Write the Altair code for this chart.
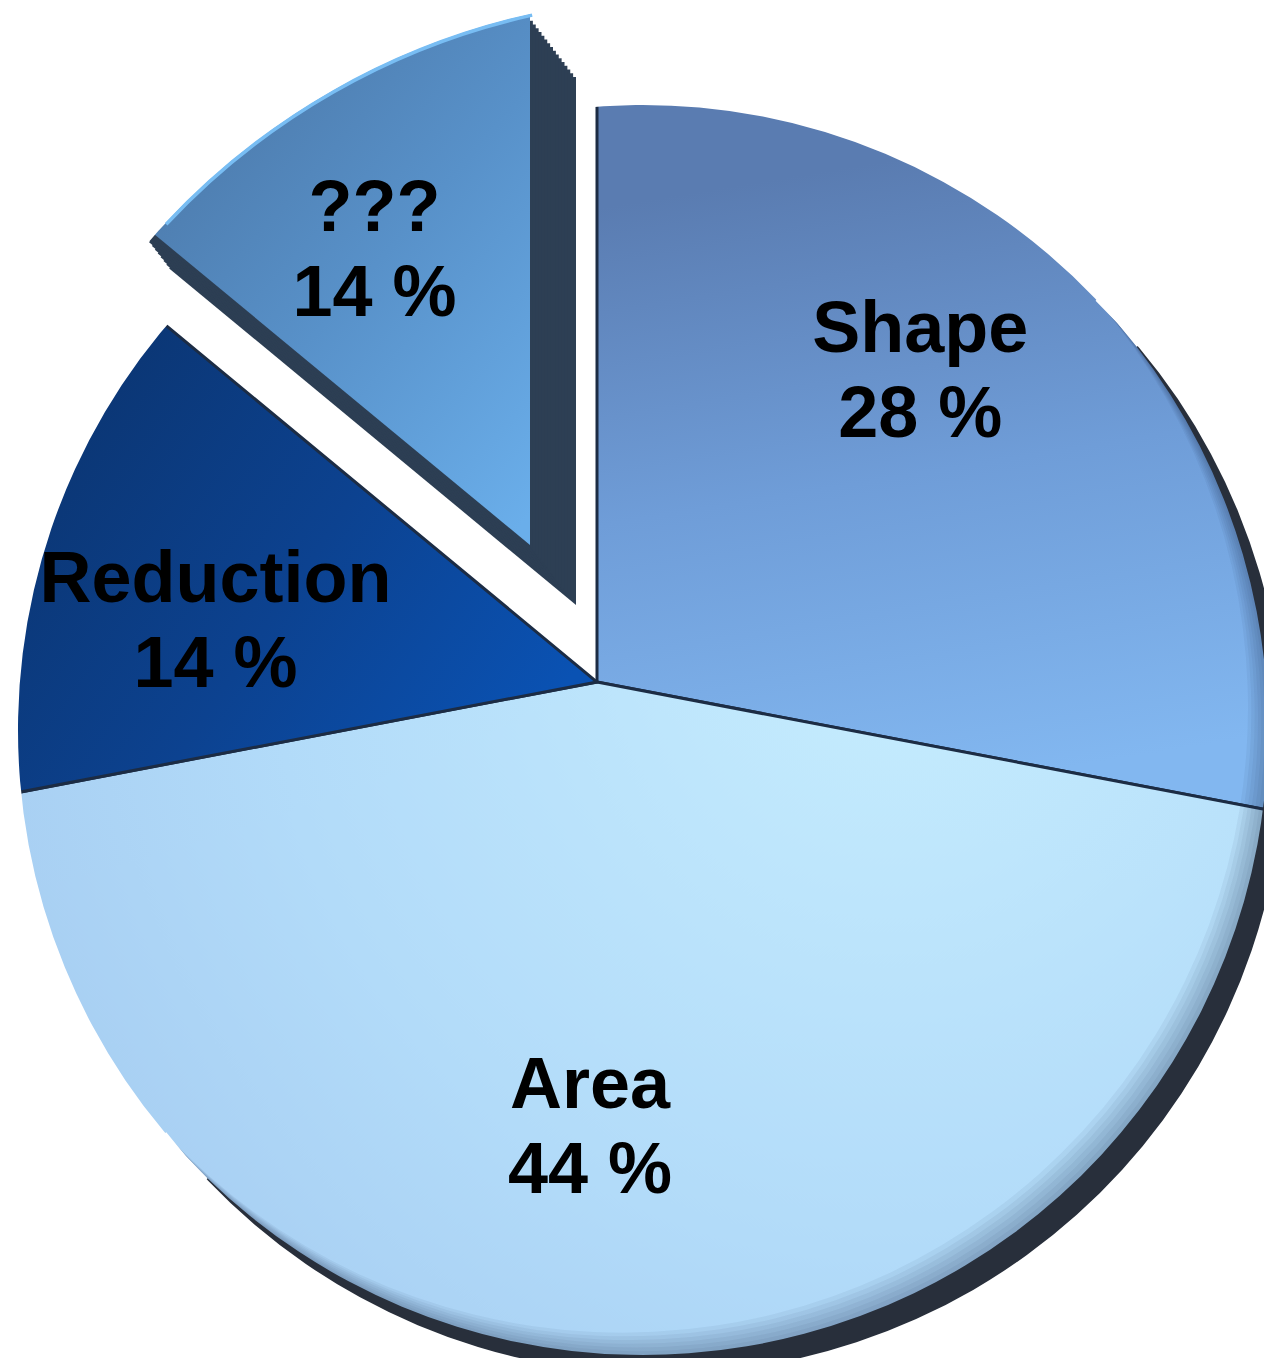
import math
import altair as alt
import pandas as pd

categories = ["Shape", "Area", "Reduction", "???"]
values = [28, 44, 14, 14]
labels = ["Shape\n28 %", "Area\n44 %", "Reduction\n14 %", "???\n14 %"]

df = pd.DataFrame({"cat": categories, "value": values, "label": labels,
                   "idx": list(range(len(categories)))})
one = pd.DataFrame({"k": [0]})

# layout constants (chart coordinates)
JX, JY, JR = 589, 674, 720         # point where the slices meet (perspective apex)
CX, CY, R = 635, 722, 625          # visible outline of the tilted pie
SX, SY = 17, 19                    # 3D rim / shadow offset
EX, EY, ER = 522, 537, 528         # exploded slice apex / side-face radius
EDX, EDY = 46, 60                  # depth of the exploded slice
EBIG = 800                         # exploded front face radius before trimming
MX, MY, MR = 678, 701, 712         # outline of the exploded slice
EXPLODED = "???"

theta_scale = alt.Scale(domain=[0, 100])
deg = math.pi / 180

base = alt.Chart(df).transform_window(
    end="sum(value)", sort=[alt.SortField("idx")], frame=[None, 0]
).transform_calculate(
    start="datum.end - datum.value",
    mid="datum.end - datum.value / 2",
)

def arc_enc(ch):
    return ch.encode(
        theta=alt.Theta("start:Q", scale=theta_scale),
        theta2=alt.Theta2("end:Q"),
    )

def lin(stops, x1, y1, x2, y2):
    return alt.LinearGradient(
        gradient="linear",
        stops=[alt.GradientStop(color=c, offset=o) for o, c in stops],
        x1=x1, y1=y1, x2=x2, y2=y2)

def ring(cx, cy, r0, r1, t0, t1, color, opacity=1.0):
    return alt.Chart(one).mark_arc(
        innerRadius=r0, outerRadius=r1, x=cx, y=cy, color=color, opacity=opacity
    ).encode(theta=alt.value(t0 * deg), theta2=alt.value(t1 * deg))

fills = {
    "Shape": lin([(0, "#5a7cb1"), (0.5, "#6f9dd8"), (1, "#82b7f0")], 0.35, 0.24, 0.45, 0.97),
    "Area": alt.RadialGradient(
        gradient="radial",
        stops=[alt.GradientStop(color="#c6edfe", offset=0),
               alt.GradientStop(color="#b2dbf9", offset=0.55),
               alt.GradientStop(color="#a1c7ee", offset=1)],
        x1=0.71, y1=0.21, r1=0, x2=0.71, y2=0.21, r2=0.8),
    "Reduction": lin([(0, "#0b3674"), (0.5, "#0c4290"), (1, "#0a52b3")], 0.28, 0.3, 1, 0.7),
}

layers = []

# main slices, drawn from the perspective apex and trimmed by the masks below
for cat in ["Shape", "Area", "Reduction"]:
    layers.append(arc_enc(
        base.transform_filter(alt.datum.cat == cat)
        .mark_arc(outerRadius=JR, x=JX, y=JY, color=fills[cat],
                  stroke="#1c2c44", strokeWidth=3)
    ))

# soft inner shading towards the lower-right rim
d = math.hypot(SX, SY)
ux, uy = SX / d, SY / d
direction = 180 - math.degrees(math.atan2(SX, SY))
a0, a1 = direction - 90, direction + 90
for k in range(1, 7):
    v = 5 * k
    layers.append(ring(CX - ux * v, CY - uy * v, R, R + 60, a0 + 1, a1 - 1, "#1d3856", 0.06))

# rim shadow + white masks giving the pie its outline
layers.append(ring(CX, CY, R, R + 80, a0 + 4, a1 - 4, "#282f3b"))
layers.append(ring(CX + SX, CY + SY, R, 1500, a0 - 4, a1 + 4, "white"))
layers.append(ring(CX, CY, R, 1500, a1 - 4, a0 + 364, "white"))

# side face of the exploded slice
M = 16
for k in range(M, 0, -1):
    layers.append(arc_enc(
        base.transform_filter(alt.datum.cat == EXPLODED)
        .mark_arc(outerRadius=ER, color="#2d3f54", x=EX + EDX * k / M, y=EY + EDY * k / M)
    ))

# front face of the exploded slice, trimmed to its outline
layers.append(arc_enc(
    base.transform_filter(alt.datum.cat == EXPLODED)
    .mark_arc(outerRadius=EBIG, x=EX, y=EY,
              color=lin([(0, "#4b77a7"), (0.5, "#5891c9"), (1, "#6aaeea")], 0.45, 0.38, 0.98, 0.98))
))
layers.append(ring(MX, MY, MR, 1600, 309, 353, "white"))
layers.append(ring(MX, MY, MR - 3, MR + 0.5, 313, 347.5, "#78bdf3"))

# labels: (category, radius, dx, dy, cx, cy)
label_pos = [
    ("Shape", 474, -42, -50, JX, JY),
    ("Area", 404, -7, 0, JX, JY),
    ("Reduction", 396, 2, -4, JX, JY),
    (EXPLODED, 370, 2, -1, EX, EY),
]
for cat, rad, dx, dy, cx, cy in label_pos:
    layers.append(
        base.transform_filter(alt.datum.cat == cat)
        .mark_text(font="Liberation Sans", fontWeight="bold", fontSize=72,
                   lineBreak="\n", lineHeight=85, align="center", baseline="middle",
                   color="#000000", dx=dx, dy=dy)
        .encode(
            theta=alt.Theta("mid:Q", scale=theta_scale),
            radius=alt.value(rad),
            x=alt.value(cx),
            y=alt.value(cy),
            text="label:N",
        )
    )

chart = alt.layer(*layers).properties(
    width=1256, height=1350, background="white",
    autosize=alt.AutoSizeParams(type="none"), padding=0,
).configure_view(stroke=None)

chart.save("out.html", embed_options={"renderer": "svg", "actions": False})
